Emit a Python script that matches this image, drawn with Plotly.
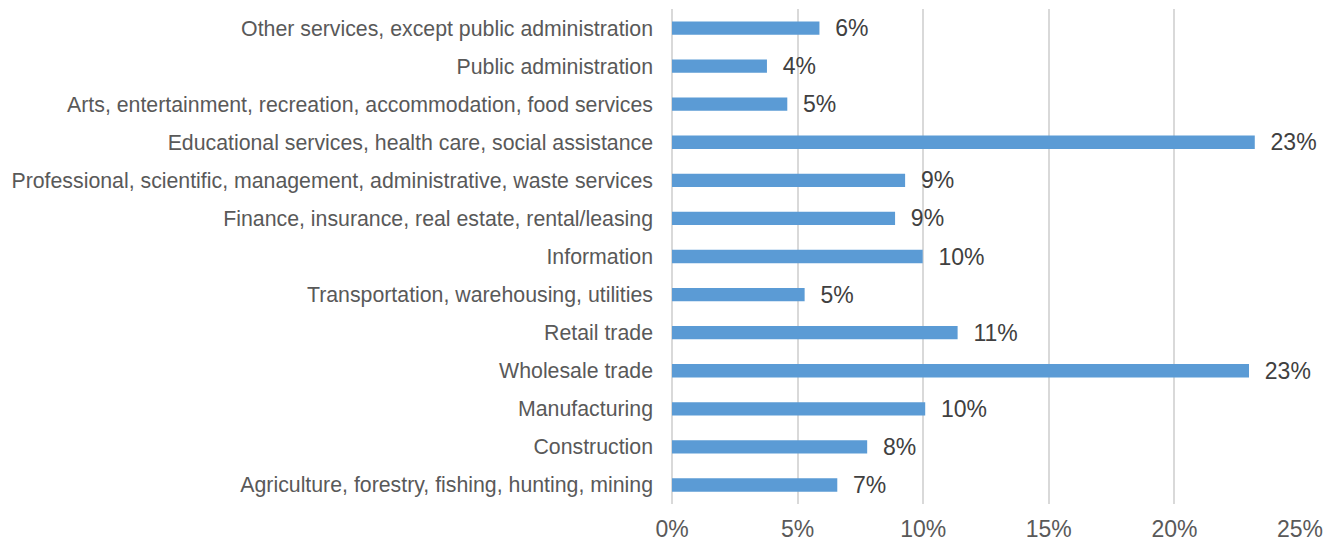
import plotly.graph_objects as go

categories = [
    "Agriculture, forestry, fishing, hunting, mining",
    "Construction",
    "Manufacturing",
    "Wholesale trade",
    "Retail trade",
    "Transportation, warehousing, utilities",
    "Information",
    "Finance, insurance, real estate, rental/leasing",
    "Professional, scientific, management, administrative, waste services",
    "Educational services, health care, social assistance",
    "Arts, entertainment, recreation, accommodation, food services",
    "Public administration",
    "Other services, except public administration",
]
values = [0.0658, 0.0777, 0.1008, 0.2297, 0.1137, 0.0528, 0.0998, 0.0888, 0.0928, 0.2320, 0.0459, 0.0378, 0.0587]
tick_vals = [0, 0.05, 0.10, 0.15, 0.20, 0.25]
tick_text = ["0%", "5%", "10%", "15%", "20%", "25%"]

fig = go.Figure(go.Bar(
    x=values,
    y=categories,
    orientation="h",
    marker=dict(color="#5B9BD5", line=dict(width=0)),
    texttemplate="\u00a0\u00a0%{x:.0%}",
    textposition="outside",
    constraintext="none",
    textfont=dict(family="Liberation Sans, Arial, sans-serif", size=23, color="#404040"),
    cliponaxis=False,
    hoverinfo="skip",
))

fig.update_layout(
    width=1338,
    height=543,
    margin=dict(l=672, r=38, t=9, b=39, autoexpand=False),
    paper_bgcolor="white",
    plot_bgcolor="white",
    bargap=0.65,
    showlegend=False,
    font=dict(family="Liberation Sans, Arial, sans-serif", color="#595959"),
)
fig.update_xaxes(
    range=[0, 0.25],
    tickvals=tick_vals,
    ticktext=tick_text,
    showgrid=True,
    gridcolor="#D9D9D9",
    gridwidth=1.5,
    zeroline=True,
    zerolinecolor="#D9D9D9",
    zerolinewidth=1.5,
    showline=False,
    automargin=False,
    tickfont=dict(size=23, color="#595959"),
    ticklabelstandoff=9,
)
fig.update_yaxes(
    showgrid=False,
    showline=False,
    zeroline=False,
    automargin=False,
    tickfont=dict(size=21.3, color="#595959"),
    ticklabelstandoff=18,
)

fig.write_html(
    "out.html",
    config={"displayModeBar": False},
    post_script="document.body.style.margin='0px';document.body.style.overflow='hidden';",
)
